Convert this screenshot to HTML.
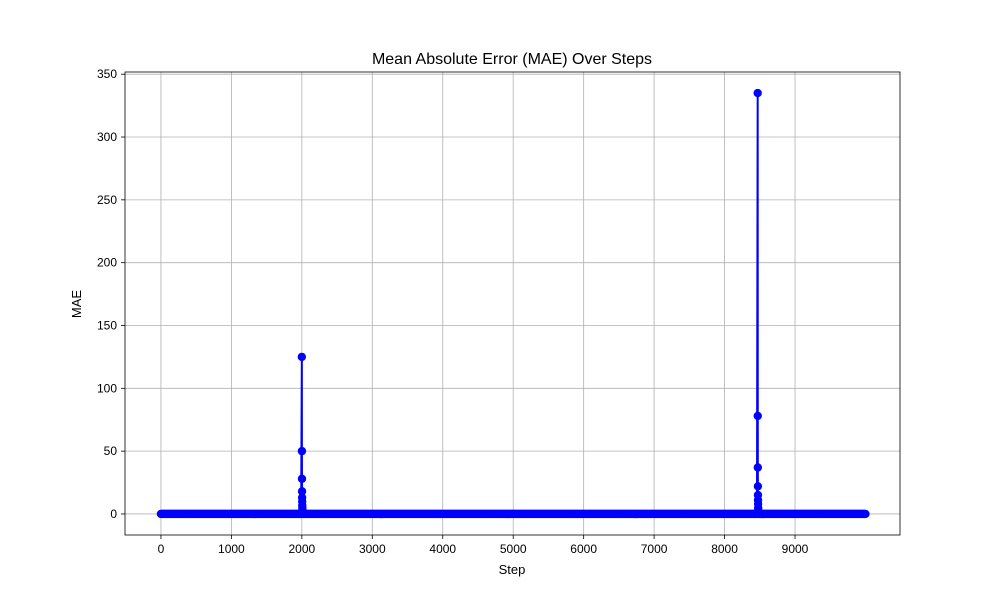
<!DOCTYPE html>
<html><head><meta charset="utf-8"><style>
body{margin:0;background:#fff;}
svg{display:block;font-family:"Liberation Sans","DejaVu Sans",sans-serif;}
</style></head><body>
<svg id="chart" width="1000" height="600">
<rect x="0" y="0" width="1000" height="600" fill="#fff"/>
<text x="512" y="64" text-anchor="middle" font-size="16">Mean Absolute Error (MAE) Over Steps</text>
<text x="512" y="574" text-anchor="middle" font-size="13">Step</text>
<text transform="translate(81,304) rotate(-90)" text-anchor="middle" font-size="13">MAE</text>
<g id="grid"></g><g id="series"></g><g id="axes"></g>
</svg>
<script>
const xTicks=[0,1000,2000,3000,4000,5000,6000,7000,8000,9000];
const yTicks=[0,50,100,150,200,250,300,350];
const baselineEnd=9999;
const baselineStride=10;
const spike1Steps=[2000,2001,2002,2003,2004,2005,2006,2007,2008];
const spike1Values=[125,50,28,18,13,10,7,5,3];
const spike2Steps=[8470,8471,8472,8473,8474,8475,8476,8477,8478];
const spike2Values=[335,78,37,22,15,11,8,5,3];

const L=125,R=900,T=72,B=535;
const xmin=-510,xmax=10490,ymin=-16.75,ymax=351.75;
const sx=v=>L+(v-xmin)/(xmax-xmin)*(R-L);
const sy=v=>B-(v-ymin)/(ymax-ymin)*(B-T);
const NS="http://www.w3.org/2000/svg";
function mk(tag,attrs,parent){const e=document.createElementNS(NS,tag);for(const k in attrs)e.setAttribute(k,attrs[k]);parent.appendChild(e);return e;}
const grid=document.getElementById('grid'),axes=document.getElementById('axes'),series=document.getElementById('series');

xTicks.forEach(t=>{
  const g=mk('line',{x1:sx(t),x2:sx(t),y1:T,y2:B,stroke:'#b0b0b0','stroke-width':0.8},grid);
  
  
  mk('line',{x1:sx(t),x2:sx(t),y1:B,y2:B+4,stroke:'#000','stroke-width':0.8},axes);
  const tx=mk('text',{x:sx(t),y:B+18,'text-anchor':'middle','font-size':12},axes);
  tx.textContent=t;
  
  
});
yTicks.forEach(t=>{
  const g=mk('line',{x1:L,x2:R,y1:sy(t),y2:sy(t),stroke:'#b0b0b0','stroke-width':0.8},grid);
  
  
  mk('line',{x1:L-4,x2:L,y1:sy(t),y2:sy(t),stroke:'#000','stroke-width':0.8},axes);
  const tx=mk('text',{x:L-8,y:sy(t)+4,'text-anchor':'end','font-size':12},axes);
  tx.textContent=t;
  
  
});
const frame=mk('rect',{x:L,y:T,width:R-L,height:B-T,fill:'none',stroke:'#000','stroke-width':0.8},axes);



const pts=[];
const spikeSet=new Set([...spike1Steps,...spike2Steps]);
for(let s=0;s<=baselineEnd;s+=baselineStride){if(!spikeSet.has(s))pts.push([s,0]);}
spike1Steps.forEach((s,i)=>pts.push([s,spike1Values[i]]));
spike2Steps.forEach((s,i)=>pts.push([s,spike2Values[i]]));
pts.push([baselineEnd,0]);
pts.sort((a,b)=>a[0]-b[0]);
const line=mk('polyline',{points:pts.map(p=>sx(p[0]).toFixed(2)+','+sy(p[1]).toFixed(2)).join(' '),fill:'none',stroke:'#0000ff','stroke-width':2},series);


pts.forEach(p=>{
  const c=mk('circle',{cx:sx(p[0]).toFixed(2),cy:sy(p[1]).toFixed(2),r:4.2,fill:'#0000ff'},series);
  
  
});
</script>
</body></html>
